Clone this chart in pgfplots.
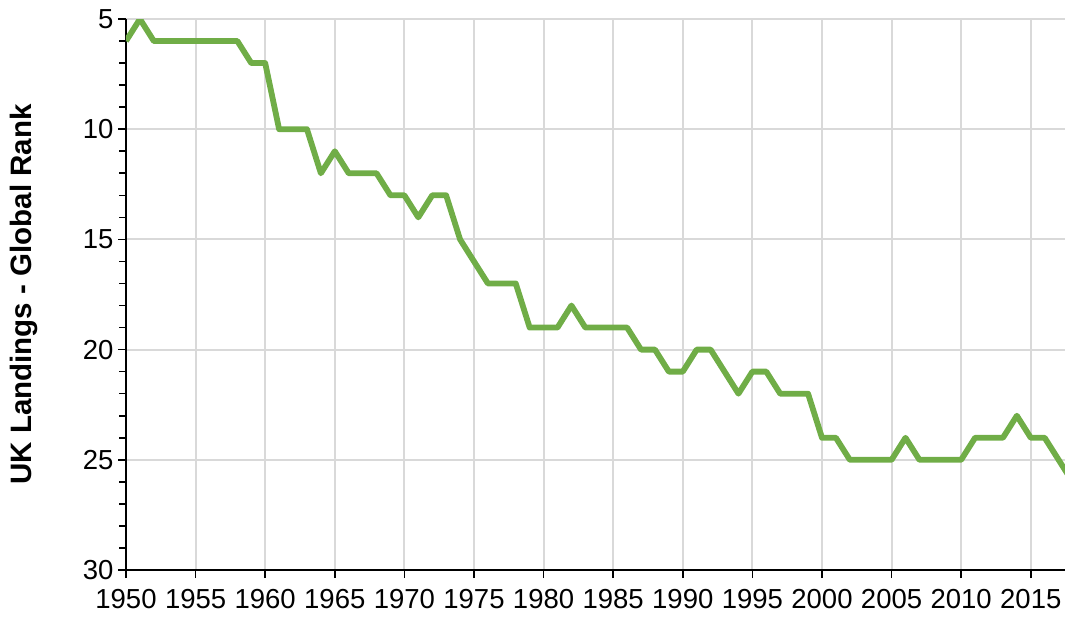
\documentclass[border=0pt]{standalone}
\usepackage{pgfplots}
\pgfplotsset{compat=1.18}
\usepackage{fontspec}
\setmainfont{Liberation Sans}
\definecolor{lineg}{HTML}{70AD47}
\definecolor{gridc}{HTML}{D9D9D9}
\pgfplotstableread{
year rank
1950 6
1951 5
1952 6
1953 6
1954 6
1955 6
1956 6
1957 6
1958 6
1959 7
1960 7
1961 10
1962 10
1963 10
1964 12
1965 11
1966 12
1967 12
1968 12
1969 13
1970 13
1971 14
1972 13
1973 13
1974 15
1975 16
1976 17
1977 17
1978 17
1979 19
1980 19
1981 19
1982 18
1983 19
1984 19
1985 19
1986 19
1987 20
1988 20
1989 21
1990 21
1991 20
1992 20
1993 21
1994 22
1995 21
1996 21
1997 22
1998 22
1999 22
2000 24
2001 24
2002 25
2003 25
2004 25
2005 25
2006 24
2007 25
2008 25
2009 25
2010 25
2011 24
2012 24
2013 24
2014 23
2015 24
2016 24
2017 25
2018 26
}\ranks
\begin{document}
\begin{tikzpicture}
\begin{axis}[
  name=ax,
  scale only axis,
  width=939pt, height=551pt,
  xmin=1950, xmax=2017.46,
  ymin=5, ymax=30,
  y dir=reverse,
  axis x line*=bottom,
  axis y line*=left,
  axis line style={black, line width=2.2pt, -},
  xtick={1950,1955,...,2015},
  ytick={5,10,...,30},
  minor y tick num=4,
  /pgf/number format/1000 sep={},
  /pgf/number format/assume math mode=true,
  tick align=outside,
  major tick length=8pt,
  minor tick length=7pt,
  tick style={black, line width=1.6pt},
  xmajorgrids, ymajorgrids,
  major grid style={gridc, line width=2pt},
  tick label style={font=\fontsize{27.5}{32}\selectfont},
  xticklabel style={yshift=-8pt, font=\fontsize{27.5}{32}\selectfont},
  yticklabel style={xshift=-1pt, font=\fontsize{27.5}{32}\selectfont},
  ylabel={UK Landings - Global Rank},
  ylabel style={at={(axis description cs:0,0.5)}, anchor=center, rotate=0, yshift=102pt, font=\fontsize{29.5}{34}\selectfont\bfseries},
  clip=true,
]
\addplot[lineg, line width=5.8pt, line join=round] table[x=year,y=rank]{\ranks};
\end{axis}
\pgfresetboundingbox
\path ([shift={(-126pt,-49pt)}]ax.south west) rectangle ([shift={(0pt,19pt)}]ax.north east);
\end{tikzpicture}
\end{document}
